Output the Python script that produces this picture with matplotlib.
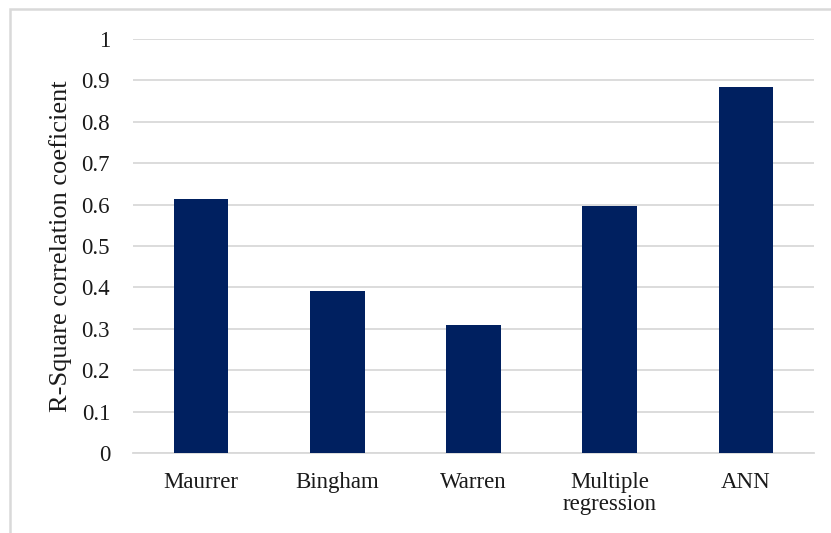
import matplotlib.pyplot as plt
from matplotlib.patches import Rectangle

methods = ["Maurrer", "Bingham", "Warren", "Multiple\nregression", "ANN"]
r_square = [0.613, 0.391, 0.309, 0.597, 0.884]
y_ticks = [0, 0.1, 0.2, 0.3, 0.4, 0.5, 0.6, 0.7, 0.8, 0.9, 1]
y_tick_labels = ["0", "0.1", "0.2", "0.3", "0.4", "0.5", "0.6", "0.7", "0.8", "0.9", "1"]

plt.rcParams["font.family"] = ["Liberation Serif", "DejaVu Serif"]

fig = plt.figure(figsize=(8.31, 5.33), dpi=100)
ax = fig.add_axes([133 / 831, 1 - 453 / 533, 681 / 831, 414 / 533])

# chart frame (only top and left edges fall inside the image)
fig.patches.append(Rectangle((10 / 831, -0.1), 1.0, 1.1 - 9 / 533,
                             transform=fig.transFigure, fill=False,
                             edgecolor="#d9d9d9", linewidth=1.8))

x = range(len(methods))
ax.bar(x, r_square, width=0.4, color="#002060", zorder=3)

ax.set_xlim(-0.5, len(methods) - 0.5)
ax.set_ylim(0, 1)
ax.set_yticks(y_ticks)
ax.set_yticklabels(y_tick_labels)
ax.set_xticks(list(x))
ax.set_xticklabels(methods, linespacing=1.05)
ax.yaxis.grid(True, color="#d9d9d9", linewidth=1.3, zorder=0)
ax.set_axisbelow(True)

for side in ["top", "right", "left"]:
    ax.spines[side].set_visible(False)
ax.spines["bottom"].set_color("#d9d9d9")
ax.spines["bottom"].set_linewidth(1.3)

ax.tick_params(axis="y", length=0, pad=16.5, labelsize=16.5, labelcolor="#1a1a1a")
ax.tick_params(axis="x", length=0, pad=14, labelsize=16.5, labelcolor="#1a1a1a")
ax.set_ylabel("R-Square correlation coeficient", fontsize=19, color="#1a1a1a")
ax.yaxis.set_label_coords(-0.0896, 0.5)

fig.savefig("out.png", dpi=100, facecolor="white")
